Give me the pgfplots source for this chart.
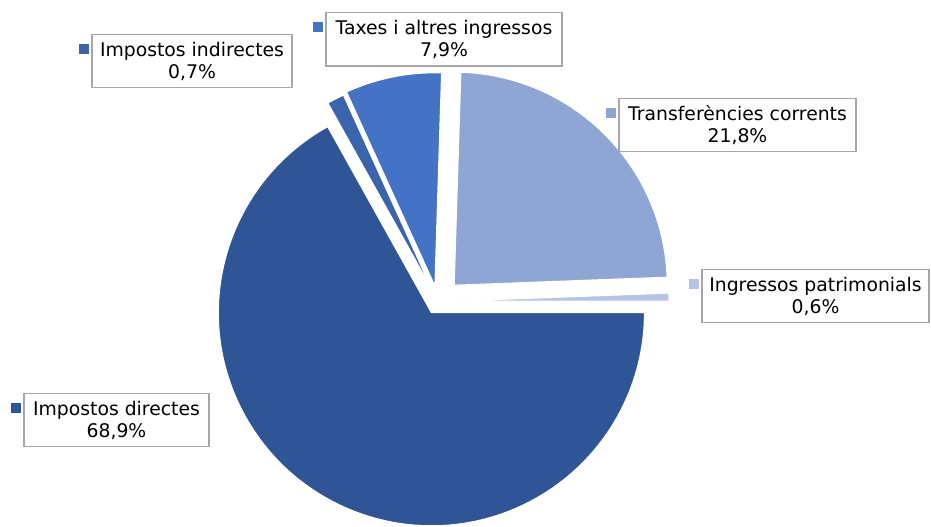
\documentclass[border=0pt]{standalone}
\usepackage{fontspec}
\setmainfont{DejaVu Sans}
\usepackage{pgfplots}
\usepackage{pgfplotstable}
\pgfplotsset{compat=1.18}

\definecolor{cDir}{HTML}{2F5597}
\definecolor{cInd}{HTML}{3B64AD}
\definecolor{cTax}{HTML}{4472C4}
\definecolor{cTra}{HTML}{8FA5D4}
\definecolor{cPat}{HTML}{B4C3E6}
\definecolor{boxgray}{HTML}{A6A6A6}

% slice shares as drawn, counter-clockwise from 3 o'clock; explode in px
\pgfplotstableread[col sep=comma]{
key,value,explode
Pat,0.6,18
Tra,23.9,23
Tax,7.3,16
Ind,1.3,14
Dir,66.9,13
}\slices

% cumulative angles -> \s<key>, \t<key>, \m<key>, \e<key>
\def\cum{0}%
\pgfplotstablegetrowsof{\slices}%
\pgfmathtruncatemacro\nrows{\pgfplotsretval-1}%
\foreach \i in {0,...,\nrows}{%
  \pgfplotstablegetelem{\i}{key}\of\slices \edef\k{\pgfplotsretval}%
  \pgfplotstablegetelem{\i}{value}\of\slices \edef\v{\pgfplotsretval}%
  \pgfplotstablegetelem{\i}{explode}\of\slices \edef\ex{\pgfplotsretval}%
  \pgfmathsetmacro\a{\cum}%
  \pgfmathsetmacro\b{\cum+3.6*\v}%
  \pgfmathsetmacro\m{(\a+\b)/2}%
  \pgfmathsetmacro\ee{0.75*\ex}%
  \expandafter\xdef\csname s\k\endcsname{\a}%
  \expandafter\xdef\csname t\k\endcsname{\b}%
  \expandafter\xdef\csname m\k\endcsname{\m}%
  \expandafter\xdef\csname e\k\endcsname{\ee}%
  \xdef\cum{\b}%
}

\def\R{159.75pt} % 213 px

\newcommand\slice[2]{%
  \fill[#2, draw=white, line width=0.75pt]
    ([shift={(\csname m#1\endcsname:\csname e#1\endcsname pt)}]C)
    -- ++(\csname s#1\endcsname:\R)
    arc[start angle=\csname s#1\endcsname, end angle=\csname t#1\endcsname, radius=\R]
    -- cycle;}

\tikzset{lblbox/.style={draw=boxgray, line width=1pt, fill=white,
  align=center, text=black, minimum height=40pt, inner sep=0pt,
  font=\fontsize{14.1pt}{16.5pt}\selectfont}}

\newcommand\lbl[5]{%
  \node[lblbox, minimum width=#3] (L) at (axis cs:#1,#2) {#5};
  \fill[#4] ([shift={(-9pt,-7.5pt)}]L.north west) rectangle ++(7.5pt,-7.5pt);}

\begin{document}
\begin{tikzpicture}
\begin{axis}[
    scale only axis, width=698.25pt, height=394.5pt,
    xmin=0, xmax=931, ymin=0, ymax=526,
    hide axis, clip=false,
]
    \coordinate (C) at (axis cs:438,224.5);
    \slice{Pat}{cPat}
    \slice{Tra}{cTra}
    \slice{Tax}{cTax}
    \slice{Ind}{cInd}
    \slice{Dir}{cDir}

    \lbl{116.5}{106}{138.75pt}{cDir}{Impostos directes\\68,9\%}
    \lbl{192}{465}{150pt}{cInd}{Impostos indirectes\\0,7\%}
    \lbl{444}{486.5}{177pt}{cTax}{Taxes i altres ingressos\\7,9\%}
    \lbl{737.5}{401}{177.75pt}{cTra}{Transferències corrents\\21,8\%}
    \lbl{815.5}{230}{170.25pt}{cPat}{Ingressos patrimonials\\0,6\%}
\end{axis}
\pgfresetboundingbox
\path[use as bounding box] (current axis.south west) rectangle (current axis.north east);
\end{tikzpicture}
\end{document}
